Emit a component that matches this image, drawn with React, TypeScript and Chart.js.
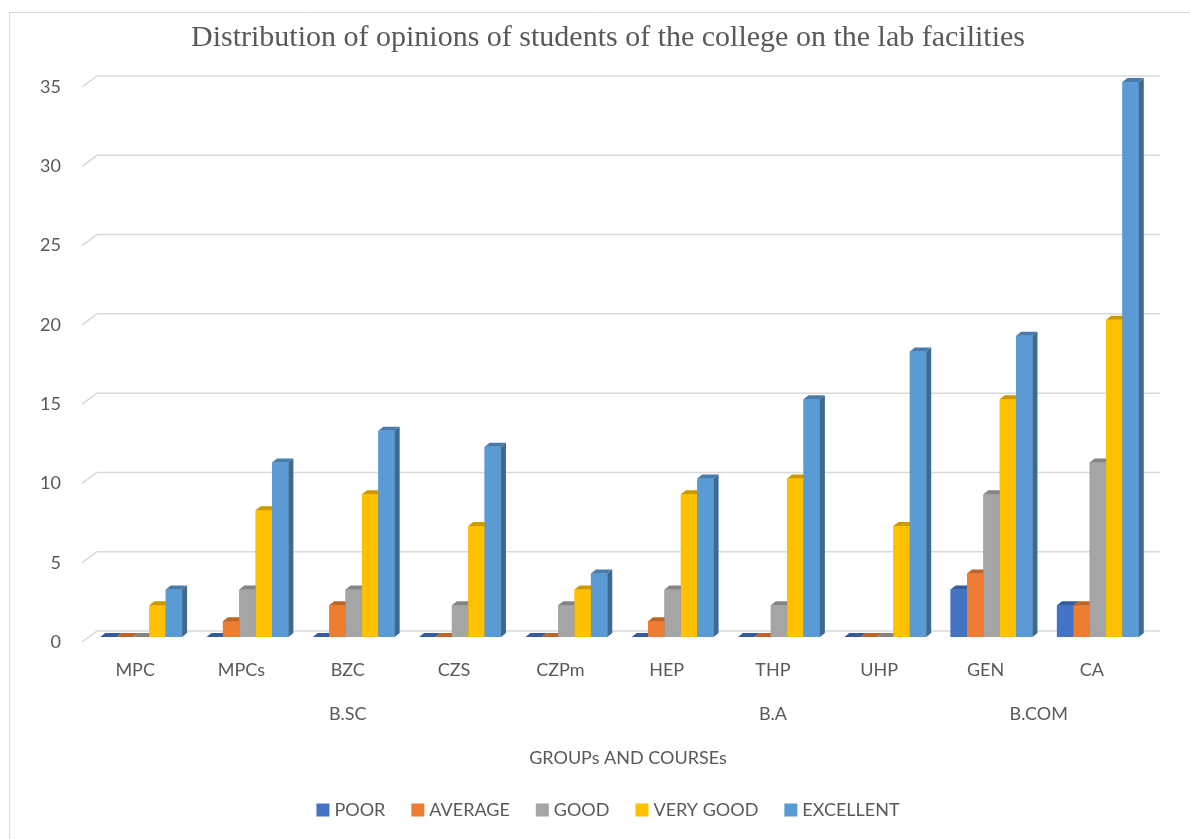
import React, { useEffect, useRef } from "react";
import { Chart, registerables } from "chart.js";

Chart.register(...registerables);

const TITLE = "Distribution of opinions of students of the college on the lab facilities";
const X_TITLE = "GROUPs AND COURSEs";
const courses = ["MPC", "MPCs", "BZC", "CZS", "CZPm", "HEP", "THP", "UHP", "GEN", "CA"];
const groupNames = ["B.SC", "B.A", "B.COM"];
const groupFirst = [0, 5, 8];
const groupLast = [4, 7, 9];
const seriesNames = ["POOR", "AVERAGE", "GOOD", "VERY GOOD", "EXCELLENT"];
const seriesColors = ["#4472C4", "#ED7D31", "#A5A5A5", "#FFC000", "#5B9BD5"];
const poor = [0, 0, 0, 0, 0, 0, 0, 0, 3, 2];
const average = [0, 1, 2, 0, 0, 1, 0, 0, 4, 2];
const good = [0, 3, 3, 2, 2, 3, 2, 0, 9, 11];
const veryGood = [2, 8, 9, 7, 3, 9, 10, 7, 15, 20];
const excellent = [3, 11, 13, 12, 4, 10, 15, 18, 19, 35];
const seriesValues = [poor, average, good, veryGood, excellent];
const Y_MIN = 0;
const Y_MAX = 35;
const Y_STEP = 5;

const TEXT = "#595959";
const GRID = "#D9D9D9";
const FONT = "Lato";
const DX = 5;
const DY = 4;
const LABEL_SHIFT = -6;

function shade(hex: string, f: number): string {
  const n = parseInt(hex.slice(1), 16);
  const r = Math.round(((n >> 16) & 255) * f);
  const g = Math.round(((n >> 8) & 255) * f);
  const b = Math.round((n & 255) * f);
  return `rgb(${r},${g},${b})`;
}

const decoPlugin = {
  id: "deco",
  beforeDraw(chart: any) {
    const ctx = chart.ctx;
    ctx.save();
    ctx.fillStyle = "#ffffff";
    ctx.fillRect(0, 0, chart.width, chart.height);
    // frame
    ctx.strokeStyle = GRID;
    ctx.lineWidth = 1;
    ctx.beginPath();
    ctx.moveTo(9.5, chart.height);
    ctx.lineTo(9.5, 12.5);
    ctx.lineTo(chart.width, 12.5);
    ctx.stroke();
    // title
    ctx.fillStyle = TEXT;
    ctx.font = '30px "Liberation Serif"';
    ctx.textAlign = "center";
    ctx.textBaseline = "alphabetic";
    ctx.fillText(TITLE, 608, 46);
    ctx.restore();
  },
  beforeDatasetsDraw(chart: any) {
    const ctx = chart.ctx;
    const y = chart.scales.y;
    const area = chart.chartArea;
    ctx.save();
    ctx.strokeStyle = GRID;
    ctx.lineWidth = 1.5;
    y.ticks.forEach((t: any) => {
      const py = y.getPixelForValue(t.value);
      ctx.beginPath();
      ctx.moveTo(area.left - 6, py + 5);
      ctx.lineTo(area.left + 9, py - 6);
      ctx.lineTo(area.right + 9, py - 6);
      ctx.stroke();
    });
    ctx.restore();
  },
  afterDatasetsDraw(chart: any) {
    const ctx = chart.ctx;
    const n = chart.data.labels.length;
    const m = chart.data.datasets.length;
    ctx.save();
    for (let j = 0; j < n; j++) {
      for (let i = 0; i < m; i++) {
        const el = chart.getDatasetMeta(i).data[j];
        const { x, y, base, width } = el.getProps(["x", "y", "base", "width"], true);
        const l = x - width / 2;
        const r = x + width / 2;
        const c = seriesColors[i];
        ctx.fillStyle = c;
        ctx.fillRect(l, y, width, base - y);
        ctx.fillStyle = shade(c, 0.68);
        ctx.beginPath();
        ctx.moveTo(r, y);
        ctx.lineTo(r + DX, y - DY);
        ctx.lineTo(r + DX, base - DY);
        ctx.lineTo(r, base);
        ctx.closePath();
        ctx.fill();
        ctx.fillStyle = shade(c, 0.8);
        ctx.beginPath();
        ctx.moveTo(l, y);
        ctx.lineTo(l + DX, y - DY);
        ctx.lineTo(r + DX, y - DY);
        ctx.lineTo(r, y);
        ctx.closePath();
        ctx.fill();
      }
    }
    ctx.restore();
  },
  afterDraw(chart: any) {
    const ctx = chart.ctx;
    const xs = chart.scales.x;
    const area = chart.chartArea;
    ctx.save();
    ctx.fillStyle = TEXT;
    ctx.font = `18px ${FONT}`;
    ctx.textAlign = "center";
    ctx.textBaseline = "middle";
    groupNames.forEach((g, k) => {
      const cx = (xs.getPixelForValue(groupFirst[k]) + xs.getPixelForValue(groupLast[k])) / 2 + LABEL_SHIFT;
      ctx.fillText(g, cx, area.bottom + 77);
    });
    ctx.fillText(X_TITLE, 628, area.bottom + 121);

    // legend
    const boxW = 13;
    const gapBox = 5;
    const gapItem = 26;
    const widths = seriesNames.map((s) => ctx.measureText(s).width);
    const total = widths.reduce((a, w) => a + boxW + gapBox + w, 0) + gapItem * (seriesNames.length - 1);
    let lx = 608 - total / 2;
    const ly = 810;
    ctx.textAlign = "left";
    seriesNames.forEach((s, k) => {
      ctx.fillStyle = seriesColors[k];
      ctx.fillRect(lx, ly - 6.5, boxW, boxW);
      ctx.fillStyle = TEXT;
      ctx.fillText(s, lx + boxW + gapBox, ly);
      lx += boxW + gapBox + widths[k] + gapItem;
    });
    ctx.restore();
  },
};

export default function App() {
  const canvasRef = useRef<HTMLCanvasElement | null>(null);

  useEffect(() => {
    if (!canvasRef.current) return;
    const chart = new Chart(canvasRef.current, {
      type: "bar",
      data: {
        labels: courses,
        datasets: seriesNames.map((name, i) => ({
          label: name,
          data: seriesValues[i],
          backgroundColor: seriesColors[i],
          borderWidth: 0,
          categoryPercentage: 0.77,
          barPercentage: 1.0,
        })),
      },
      options: {
        animation: false,
        responsive: false,
        devicePixelRatio: 1,
        layout: { padding: { left: 30, right: 39, top: 82, bottom: 0 } },
        plugins: {
          legend: { display: false },
          title: { display: false },
          tooltip: { enabled: false },
        },
        scales: {
          x: {
            grid: { display: false, drawTicks: false },
            border: { display: false },
            ticks: {
              color: TEXT,
              font: { family: FONT, size: 18 },
              padding: 22,
              labelOffset: LABEL_SHIFT,
              autoSkip: false,
              maxRotation: 0,
            },
            afterFit: (scale: any) => {
              scale.height = 202;
            },
          },
          y: {
            min: Y_MIN,
            max: Y_MAX,
            grid: { display: false, drawTicks: false },
            border: { display: false },
            ticks: {
              stepSize: Y_STEP,
              color: TEXT,
              font: { family: FONT, size: 18 },
              padding: 27,
              labelOffset: 5,
            },
            afterFit: (scale: any) => {
              scale.width = 58;
            },
          },
        },
      },
      plugins: [decoPlugin],
    });
    return () => chart.destroy();
  }, []);

  return (
    <div style={{ position: "absolute", left: 0, top: 0, width: 1190, height: 839, background: "#fff" }}>
      <canvas ref={canvasRef} width={1190} height={839} />
    </div>
  );
}
